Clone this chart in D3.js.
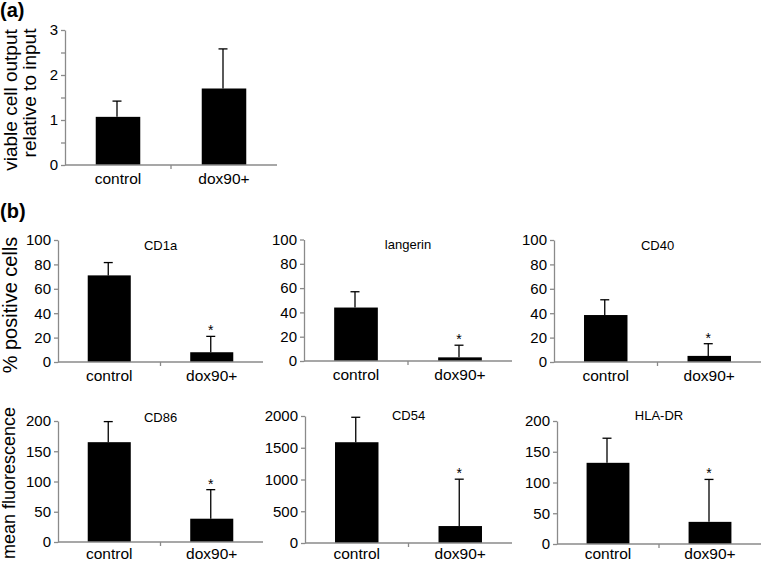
<!DOCTYPE html>
<html lang="en">
<head>
<meta charset="UTF-8">
<script src="https://d3js.org/d3.v7.min.js"></script>
<style>
  body { margin: 0; background: #fff; }
  svg { display: block; font-family: "Liberation Sans", Arial, sans-serif; }
</style>
</head>
<body>
<div id="chart"></div>
<script>
// ---------- data ----------
const groups = ["control", "dox90+"];

// panel (a)
const viabilityMean = [1.07, 1.70];
const viabilityErr = [0.35, 0.88];
const viabilityTicks = [0, 0.5, 1, 1.5, 2, 2.5, 3];

// panel (b)
const markers = ["CD1a", "langerin", "CD40", "CD86", "CD54", "HLA-DR"];
const controlMean = [71, 44, 38.5, 165, 1587, 132];
const controlErr = [10.5, 13, 12.5, 34, 393, 40];
const doxMean = [8, 3, 5, 38.5, 267, 36];
const doxErr = [13, 10, 10, 48, 738, 69];
const markerMax = [100, 100, 100, 200, 2000, 200];
const markerTicks = [
  [0, 20, 40, 60, 80, 100],
  [0, 20, 40, 60, 80, 100],
  [0, 20, 40, 60, 80, 100],
  [0, 50, 100, 150, 200],
  [0, 500, 1000, 1500, 2000],
  [0, 50, 100, 150, 200]
];
const significant = [true, true, true, true, true, true];

// ---------- layout ----------
const W = 761, H = 561;
const svg = d3.select("#chart").append("svg")
  .attr("width", W)
  .attr("height", H);

// plot frames: left, right, zero line, top of axis, title baseline, label offset
const frames = [
  { x0: 58, x1: 263, y0: 362, y1: 240, ty: 250, ly: 19 },
  { x0: 304, x1: 512, y0: 361, y1: 239.5, ty: 249, ly: 19 },
  { x0: 554, x1: 761, y0: 362, y1: 240, ty: 250, ly: 19 },
  { x0: 58, x1: 263, y0: 542, y1: 421, ty: 421.5, ly: 17 },
  { x0: 305, x1: 512, y0: 543, y1: 416, ty: 419.5, ly: 16 },
  { x0: 557, x1: 761, y0: 544, y1: 421, ty: 420, ly: 15 }
];
const axisGrey = "#8a8a8a";

const drawPanel = (f, means, errs, max, ticks, tickFmt, title, stars) => {
  const g = svg.append("g");

  const x = d3.scaleBand()
    .domain(groups)
    .range([f.x0, f.x1])
    .paddingInner(0.58)
    .paddingOuter(0.29);

  const y = d3.scaleLinear()
    .domain([0, max])
    .range([f.y0, f.y1]);

  // bars
  g.selectAll("rect.bar")
    .data(groups)
    .enter()
    .append("rect")
    .attr("class", "bar")
    .attr("x", d => x(d))
    .attr("width", x.bandwidth())
    .attr("y", (d, i) => y(means[i]))
    .attr("height", (d, i) => y(0) - y(means[i]))
    .attr("fill", "#000");

  // upper error bars
  const cx = d => x(d) + x.bandwidth() / 2 - 1;
  g.selectAll("line.err")
    .data(groups)
    .enter()
    .append("line")
    .attr("x1", cx).attr("x2", cx)
    .attr("y1", (d, i) => y(means[i]))
    .attr("y2", (d, i) => y(means[i] + errs[i]))
    .attr("stroke", "#000")
    .attr("stroke-width", 1.3);
  g.selectAll("line.cap")
    .data(groups)
    .enter()
    .append("line")
    .attr("x1", d => cx(d) - 4.5).attr("x2", d => cx(d) + 4.5)
    .attr("y1", (d, i) => y(means[i] + errs[i]))
    .attr("y2", (d, i) => y(means[i] + errs[i]))
    .attr("stroke", "#000")
    .attr("stroke-width", 1.3);

  // significance marks
  if (stars) {
    g.selectAll("text.star")
      .data(groups.filter((d, i) => stars[i]))
      .enter()
      .append("text")
      .attr("x", d => cx(d))
      .attr("y", d => y(means[groups.indexOf(d)] + errs[groups.indexOf(d)]) - 1)
      .attr("text-anchor", "middle")
      .style("font-size", "14px")
      .text("*");
  }

  // y axis
  const yAxis = d3.axisLeft(y)
    .tickValues(ticks)
    .tickFormat(tickFmt)
    .tickSize(4)
    .tickSizeOuter(0)
    .tickPadding(3);
  const ya = g.append("g")
    .attr("transform", `translate(${f.x0},0)`)
    .call(yAxis);
  ya.select(".domain").attr("stroke", axisGrey).attr("stroke-width", 1.3);
  ya.selectAll(".tick line").attr("stroke", axisGrey).attr("stroke-width", 1.3);
  ya.selectAll(".tick text")
    .attr("fill", "#000")
    .style("font-size", "15px")
    .style("font-family", "'Liberation Sans', Arial, sans-serif");

  // x axis: baseline + tick between categories
  g.append("line")
    .attr("x1", f.x0).attr("x2", f.x1)
    .attr("y1", y(0)).attr("y2", y(0))
    .attr("stroke", axisGrey).attr("stroke-width", 1.3);
  const mid = (f.x0 + f.x1) / 2;
  g.append("line")
    .attr("x1", mid).attr("x2", mid)
    .attr("y1", y(0)).attr("y2", y(0) + 4)
    .attr("stroke", axisGrey).attr("stroke-width", 1.3);
  g.selectAll("text.cat")
    .data(groups)
    .enter()
    .append("text")
    .attr("x", d => x(d) + x.bandwidth() / 2)
    .attr("y", y(0) + (f.ly || 19))
    .attr("text-anchor", "middle")
    .style("font-size", "15.5px")
    .text(d => d);

  if (title) {
    g.append("text")
      .attr("x", (f.x0 + f.x1) / 2)
      .attr("y", f.ty)
      .attr("text-anchor", "middle")
      .style("font-size", "13px")
      .text(title);
  }
};

// ---------- panel (a) ----------
drawPanel({ x0: 65, x1: 277, y0: 165, y1: 30, ly: 19 },
  viabilityMean, viabilityErr, 3, viabilityTicks,
  d => (Number.isInteger(d) ? d : ""), null, null);

// ---------- panel (b) ----------
markers.forEach((m, i) => {
  drawPanel(frames[i],
    [controlMean[i], doxMean[i]],
    [controlErr[i], doxErr[i]],
    markerMax[i], markerTicks[i], d => d, m,
    [false, significant[i]]);
});

// ---------- labels ----------
svg.append("text")
  .attr("x", 0).attr("y", 17)
  .style("font-size", "20px").style("font-weight", "bold")
  .text("(a)");
svg.append("text")
  .attr("x", 0).attr("y", 218)
  .style("font-size", "20px").style("font-weight", "bold")
  .text("(b)");

const yTitle = (txt, bx, cy, size) => {
  svg.append("text")
    .attr("transform", `translate(${bx},${cy}) rotate(-90)`)
    .attr("text-anchor", "middle")
    .style("font-size", size + "px")
    .text(txt);
};
yTitle("viable cell output", 17, 100, 19);
yTitle("relative to input", 36, 93, 19);
yTitle("% positive cells", 17, 305, 20);
yTitle("mean fluorescence", 15, 483, 18);
</script>
</body>
</html>
